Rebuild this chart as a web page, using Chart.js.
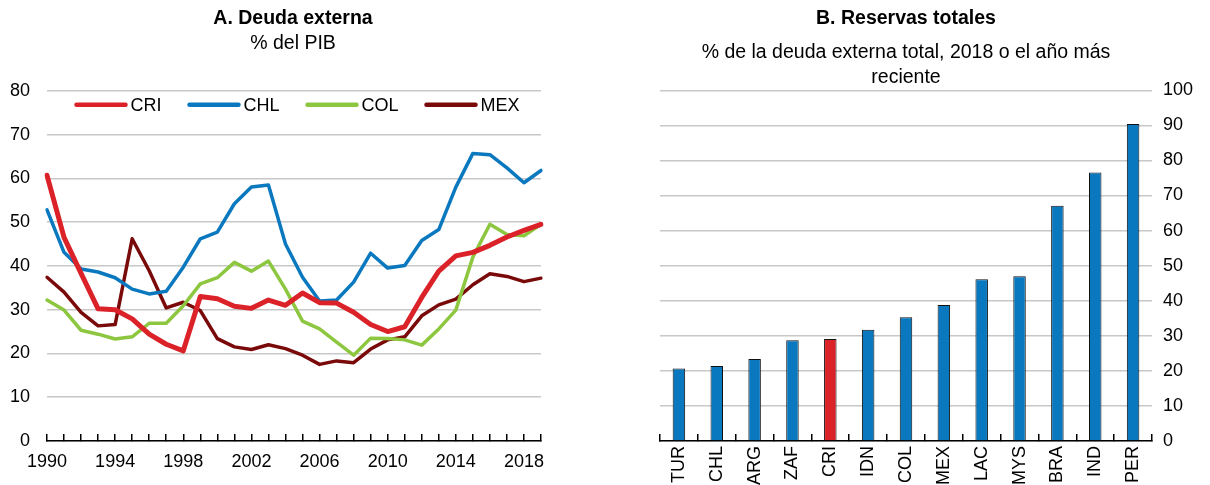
<!DOCTYPE html>
<html>
<head>
<meta charset="utf-8">
<script src="https://cdn.jsdelivr.net/npm/chart.js@4/dist/chart.umd.min.js"></script>
<style>
    body { margin: 0; background: #fff; }
    #wrap { position: relative; width: 1210px; height: 485px; }
    #debtBox { position: absolute; left: 0; top: 0; width: 586px; height: 485px; }
    #resBox { position: absolute; left: 602px; top: 0; width: 608px; height: 485px; }
</style>
</head>
<body>
<div id="wrap">
    <div id="debtBox"><canvas id="debtChart"></canvas></div>
    <div id="resBox"><canvas id="reservesChart"></canvas></div>
</div>
<script>
// PANEL A data: external debt, % of GDP
var years = [];
for (var yr = 1990; yr <= 2019; yr++) years.push(String(yr));

var cri = [60.7, 46.5, 38.3, 30.2, 30.0, 27.9, 24.4, 22.1, 20.6, 33.0, 32.5, 30.8, 30.3, 32.2, 31.0, 33.8, 31.6, 31.5, 29.4, 26.6, 25.0, 26.1, 32.8, 38.8, 42.3, 43.1, 44.7, 46.6, 48.1, 49.5];
var chl = [52.8, 43.1, 39.3, 38.6, 37.3, 34.7, 33.6, 34.2, 39.7, 46.2, 47.7, 54.2, 58.0, 58.5, 45.0, 37.4, 32.0, 32.2, 36.3, 42.9, 39.5, 40.1, 45.8, 48.3, 58.0, 65.7, 65.4, 62.4, 59.0, 61.8];
var col = [32.2, 29.9, 25.3, 24.4, 23.3, 23.8, 26.9, 26.9, 30.9, 35.9, 37.3, 40.8, 38.8, 41.1, 34.7, 27.4, 25.6, 22.6, 19.6, 23.5, 23.4, 23.1, 21.9, 25.6, 29.9, 42.0, 49.5, 47.2, 46.9, 49.5];
var mex = [37.4, 34.0, 29.4, 26.3, 26.6, 46.2, 38.9, 30.4, 31.7, 29.8, 23.4, 21.5, 20.9, 22.0, 21.1, 19.6, 17.5, 18.3, 17.9, 21.0, 23.1, 23.8, 28.6, 31.1, 32.4, 35.7, 38.2, 37.6, 36.4, 37.2];

// PANEL B data: total reserves, % of total external debt
var countries = ['TUR', 'CHL', 'ARG', 'ZAF', 'CRI', 'IDN', 'COL', 'MEX', 'LAC', 'MYS', 'BRA', 'IND', 'PER'];
var reserves = [20.7, 21.4, 23.4, 28.7, 29.1, 31.7, 35.3, 38.8, 46.1, 47.0, 67.1, 76.6, 90.4];

var RED = '#dc2229';
var BLUE = '#0a78bf';
var GREEN = '#8dc63f';
var DARKRED = '#7a0a0a';
var GRID = '#c8c8c8';
var FONT = '"Liberation Sans", Arial, sans-serif';

Chart.defaults.font.family = FONT;
Chart.defaults.font.size = 17;
Chart.defaults.color = '#000';
Chart.defaults.animation = false;
Chart.defaults.responsive = true;
Chart.defaults.maintainAspectRatio = false;

// one-row legend drawn inside the plot, near the top
var rowLegend = {
    id: 'rowLegend',
    afterDraw: function (chart) {
        var ctx = chart.ctx;
        var area = chart.chartArea;
        var lineLen = 53, gap = 3, spacing = 26;
        ctx.save();
        ctx.font = '18px ' + FONT;
        var items = chart.data.datasets.map(function (ds) {
            return { label: ds.label, color: ds.borderColor, w: lineLen + gap + ctx.measureText(ds.label).width };
        });
        var total = items.reduce(function (a, it) { return a + it.w; }, 0) + spacing * (items.length - 1);
        var x = (area.left + area.right) / 2 - total / 2 + 3;
        var y = area.top + 14;
        items.forEach(function (it) {
            ctx.strokeStyle = it.color;
            ctx.lineWidth = 4.5;
            ctx.lineCap = 'round';
            ctx.beginPath();
            ctx.moveTo(x + 2, y);
            ctx.lineTo(x + lineLen - 2, y);
            ctx.stroke();
            ctx.fillStyle = '#000';
            ctx.textBaseline = 'middle';
            ctx.fillText(it.label, x + lineLen + gap, y + 1);
            x += it.w + spacing;
        });
        ctx.restore();
    }
};

function line(label, data, color, width) {
    return {
        label: label,
        data: data,
        borderColor: color,
        backgroundColor: color,
        borderWidth: width,
        pointRadius: 0,
        tension: 0,
        borderJoinStyle: 'round',
        borderCapStyle: 'round'
    };
}

// empty axis used only to reserve room beside the plot
function spacer(pos, w) {
    return {
        position: pos,
        afterFit: function (s) { s.width = w; },
        grid: { display: false },
        border: { display: false },
        ticks: { display: false }
    };
}

// A. DEUDA EXTERNA

var ctxDebt = document.getElementById('debtChart').getContext('2d');
var debtChart = new Chart(ctxDebt, {
    type: 'line',
    data: {
        labels: years,
        datasets: [
            line('CRI', cri, RED, 5),
            line('CHL', chl, BLUE, 3.5),
            line('COL', col, GREEN, 3.5),
            line('MEX', mex, DARKRED, 3.5)
        ]
    },
    plugins: [rowLegend],
    options: {
        layout: { padding: 0 },
        plugins: {
            title: {
                display: true,
                text: 'A. Deuda externa',
                font: { size: 19.5, weight: 'bold' },
                padding: { top: 7, bottom: 0 }
            },
            subtitle: {
                display: true,
                text: '% del PIB',
                font: { size: 19.5 },
                padding: { top: 2, bottom: 35 }
            },
            legend: { display: false },
            tooltip: { enabled: false }
        },
        scales: {
            x: {
                offset: false,
                afterFit: function (s) { s.height = 44; },
                grid: {
                    drawOnChartArea: false,
                    color: '#000',
                    lineWidth: 1.5,
                    tickLength: -7
                },
                border: { color: '#000', width: 1.5 },
                ticks: {
                    autoSkip: false,
                    maxRotation: 0,
                    padding: 17,
                    font: { size: 18 },
                    callback: function (v, i) {
                        return (i % 4 === 0) ? years[i] : '';
                    }
                }
            },
            y: {
                min: 0,
                max: 80,
                afterFit: function (s) { s.width = 47; },
                grid: { color: GRID, lineWidth: 1.5, drawTicks: false },
                border: { display: false },
                ticks: { stepSize: 10, padding: 17, font: { size: 18 } }
            },
            pad: spacer('right', 45)
        }
    }
});

// B. RESERVAS TOTALES

var ctxRes = document.getElementById('reservesChart').getContext('2d');
var reservesChart = new Chart(ctxRes, {
    type: 'bar',
    data: {
        labels: countries,
        datasets: [{
            label: 'Reservas totales',
            data: reserves,
            backgroundColor: countries.map(function (c) { return c === 'CRI' ? RED : BLUE; }),
            borderColor: '#111',
            borderWidth: 1,
            borderSkipped: 'bottom',
            barPercentage: 0.33,
            categoryPercentage: 1
        }]
    },
    options: {
        layout: { padding: 0 },
        plugins: {
            title: {
                display: true,
                text: 'B. Reservas totales',
                font: { size: 19.5, weight: 'bold' },
                padding: { top: 7, bottom: 0 }
            },
            subtitle: {
                display: true,
                text: ['% de la deuda externa total, 2018 o el año más', 'reciente'],
                font: { size: 19.5, lineHeight: 1.28 },
                padding: { top: 10, bottom: 0 }
            },
            legend: { display: false },
            tooltip: { enabled: false }
        },
        scales: {
            x: {
                afterFit: function (s) { s.height = 44; },
                grid: {
                    drawOnChartArea: false,
                    color: '#000',
                    lineWidth: 1.5,
                    tickLength: -7
                },
                border: { color: '#000', width: 1.5 },
                ticks: {
                    autoSkip: false,
                    minRotation: 90,
                    maxRotation: 90,
                    padding: 12,
                    font: { size: 18 }
                }
            },
            y: {
                position: 'right',
                min: 0,
                max: 100,
                afterFit: function (s) { s.width = 58; },
                grid: { color: GRID, lineWidth: 1.5, drawTicks: false },
                border: { display: false },
                ticks: { stepSize: 10, padding: 11, font: { size: 18 } }
            },
            pad: spacer('left', 58)
        }
    }
});
</script>
</body>
</html>
